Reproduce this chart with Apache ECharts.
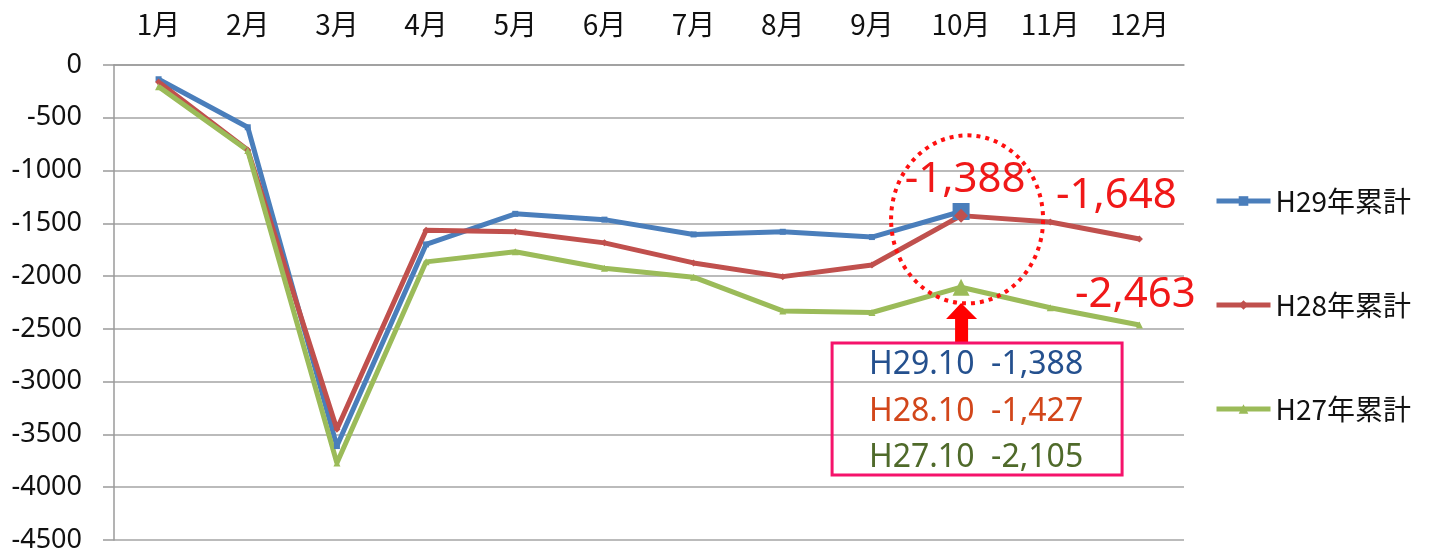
<!DOCTYPE html>
<html>
<head>
<meta charset="utf-8">
<script src="https://cdn.jsdelivr.net/npm/echarts@6/dist/echarts.min.js"></script>
<style>
  html, body { margin: 0; padding: 0; background: #fff; }
  #chart { width: 1433px; height: 555px; }
</style>
</head>
<body>
<div id="chart"></div>
<script>
const months = ["1月", "2月", "3月", "4月", "5月", "6月", "7月", "8月", "9月", "10月", "11月", "12月"];
const h29 = [-135, -590, -3610, -1700, -1410, -1465, -1605, -1580, -1630, -1388];
const h28 = [-160, -805, -3450, -1565, -1580, -1685, -1875, -2005, -1895, -1427, -1487, -1648];
const h27 = [-205, -810, -3770, -1865, -1770, -1925, -2010, -2330, -2345, -2105, -2300, -2463];
const yTicks = { min: -4500, max: 0, step: 500 };
const seriesNames = ["H29年累計", "H28年累計", "H27年累計"];
const boxLines = [
  { label: "H29.10", value: -1388, color: "#24508e" },
  { label: "H28.10", value: -1427, color: "#d2461a" },
  { label: "H27.10", value: -2105, color: "#4f6a2a" }
];

const fmt = (v) => "-" + Math.abs(v).toLocaleString("en-US");
const LATIN = "'Noto Sans', 'Noto Sans CJK JP', sans-serif";
const CJK = "'Noto Sans CJK JP', 'Noto Sans', sans-serif";

const chart = echarts.init(document.getElementById("chart"));

// 10月だけ大きいマーカー、ラベル付き
function withHighlight(arr, idx, size, label) {
  return arr.map((v, i) => {
    const item = { value: v };
    if (i === idx) {
      item.symbolSize = size;
      if (label) item.label = label;
    }
    return item;
  });
}

const bigLabel = (offset) => ({
  show: true,
  position: "inside",
  offset,
  formatter: (p) => fmt(p.value),
  color: "#f01818",
  fontSize: 42,
  fontFamily: LATIN
});

const h29Data = withHighlight(h29, 9, 17, bigLabel([4, -31]));
const h28Data = withHighlight(h28, 9, 14, null);
h28Data[11].label = bigLabel([-23, -43]);
const h27Data = withHighlight(h27, 9, 17, null);
h27Data[11].label = bigLabel([-4, -30]);

chart.setOption({
  animation: false,
  grid: { left: 114, right: 249, top: 65, bottom: 15 },
  legend: {
    orient: "vertical",
    left: 1209,
    top: 181,
    itemWidth: 54,
    itemHeight: 12,
    itemGap: 74,
    data: seriesNames,
    lineStyle: { width: 5 },
    textStyle: { fontSize: 28, lineHeight: 30, color: "#111", fontFamily: CJK }
  },
  xAxis: {
    type: "category",
    position: "top",
    data: months,
    axisLine: { lineStyle: { color: "#9a9a9a", width: 1.5 } },
    axisTick: { inside: true, length: 10, lineStyle: { color: "#9a9a9a", width: 1.5 } },
    axisLabel: { margin: 27, fontSize: 28, color: "#111", fontFamily: CJK }
  },
  yAxis: {
    type: "value",
    min: yTicks.min,
    max: yTicks.max,
    interval: yTicks.step,
    axisLine: { show: true, lineStyle: { color: "#9a9a9a", width: 1.5 } },
    axisTick: { show: true, length: 11, lineStyle: { color: "#9a9a9a", width: 1.5 } },
    splitLine: { lineStyle: { color: "#a5a5a5", width: 1.5 } },
    axisLabel: {
      margin: 32, fontSize: 27, color: "#111", fontFamily: LATIN,
      formatter: (v) => String(v)
    }
  },
  series: [
    {
      name: seriesNames[0], type: "line",
      symbol: "rect", symbolSize: 6,
      data: h29Data,
      lineStyle: { width: 5, color: "#4a7ebb" },
      itemStyle: { color: "#4a7ebb" }
    },
    {
      name: seriesNames[1], type: "line",
      symbol: "diamond", symbolSize: 7,
      data: h28Data,
      lineStyle: { width: 5, color: "#c0504d" },
      itemStyle: { color: "#c0504d" }
    },
    {
      name: seriesNames[2], type: "line",
      symbol: "triangle", symbolSize: 7,
      data: h27Data,
      lineStyle: { width: 5, color: "#9bbb59" },
      itemStyle: { color: "#9bbb59" }
    }
  ]
});

// 注記（点線の円・矢印・枠）を10月の位置から配置
const [cx] = chart.convertToPixel({ xAxisIndex: 0, yAxisIndex: 0 }, ["10月", 0]);
const [, yTop] = chart.convertToPixel({ xAxisIndex: 0, yAxisIndex: 0 }, ["10月", h29[9]]);
const [, yLow] = chart.convertToPixel({ xAxisIndex: 0, yAxisIndex: 0 }, ["10月", h27[9]]);
const ellCy = (yTop + yLow) / 2 - 30;
const boxTop = 343, boxLeft = cx - 129, boxW = 290, boxH = 132;

const graphics = [
  {
    type: "ellipse",
    shape: { cx: cx + 6, cy: ellCy, rx: 76, ry: 84 },
    style: { fill: null, stroke: "#ff1010", lineWidth: 4, lineDash: [4, 5] },
    z: 100
  },
  {
    type: "polygon",
    shape: {
      points: [
        [cx, 303], [cx + 16, 319], [cx + 7, 319], [cx + 7, boxTop],
        [cx - 6, boxTop], [cx - 6, 319], [cx - 15, 319]
      ]
    },
    style: { fill: "#ff0000" },
    z: 100
  },
  {
    type: "rect",
    shape: { x: boxLeft, y: boxTop, width: boxW, height: boxH },
    style: { fill: null, stroke: "#f5136b", lineWidth: 3 },
    z: 100
  }
];
boxLines.forEach((b, i) => {
  graphics.push({
    type: "text",
    x: boxLeft + boxW / 2 - 1,
    y: 365 + i * 46.5,
    style: {
      text: b.label + "  " + fmt(b.value),
      fill: b.color,
      font: "32px " + LATIN,
      align: "center",
      verticalAlign: "middle"
    },
    z: 100
  });
});
chart.setOption({ graphic: graphics });
</script>
</body>
</html>
